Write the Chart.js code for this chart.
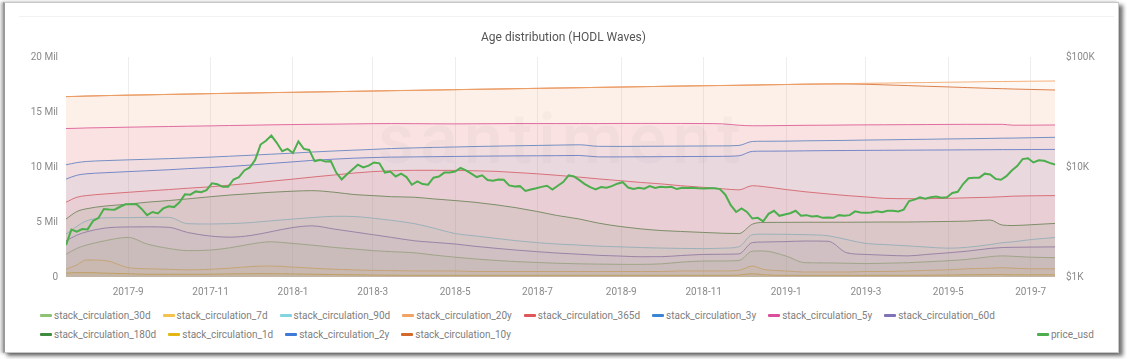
<!DOCTYPE html>
<html><head><meta charset="utf-8">
<script src="https://cdn.jsdelivr.net/npm/chart.js@4.4.1/dist/chart.umd.min.js"></script>
<style>
html,body{margin:0;padding:0;background:#fff;width:1127px;height:359px;overflow:hidden;font-family:Roboto,"Noto Sans",sans-serif;}
#frame{position:absolute;left:3px;top:2px;width:1113px;height:349px;border:1px solid #c8c8c8;border-left:2px solid #9a9a9a;box-shadow:4px 3px 4px rgba(0,0,0,0.55),-2px 0 3px rgba(0,0,0,0.3);background:#fff;}
#innerline{position:absolute;left:14px;top:13px;width:1095px;border-top:1px solid #f2f2f2;}
#wrap{position:absolute;left:0;top:0;width:1127px;height:300px;}
#wm{position:absolute;left:378px;top:98px;font-size:70px;font-weight:500;color:rgba(120,120,120,0.045);letter-spacing:6px;pointer-events:none;}
#legend{position:absolute;left:40px;top:306px;width:1000px;display:flex;flex-wrap:wrap;font-size:10px;color:#808080;line-height:19px;}
#legend2{position:absolute;left:1037px;top:325px;display:flex;font-size:10px;color:#808080;line-height:19px;}
.item{display:flex;align-items:center;margin-right:12px;white-space:nowrap;}
.mk{width:12px;height:3px;border-radius:1px;margin-right:2px;}
</style>
</head><body>
<div id="frame"><div id="innerline"></div></div>
<div id="wrap"><canvas id="c" width="1127" height="300"></canvas></div>
<div id="wm">santiment</div>
<div id="legend"></div>
<div id="legend2"></div>
<script>
const chartTitle = 'Age distribution (HODL Waves)';
const startDate = '2017-07-17';
const endDate = '2019-07-19';
const tickLabels = ['2017-9','2017-11','2018-1','2018-3','2018-5','2018-7','2018-9','2018-11','2019-1','2019-3','2019-5','2019-7'];
const leftTicks = [0,5,10,15,20];
const rightTicks = [1000,10000,100000];
const rightTickLabels = ['$1K','$10K','$100K'];

const layerDates = ['2017-07-17','2017-07-25','2017-08-01','2017-08-15','2017-09-01','2017-09-15','2017-10-01','2017-10-15','2017-11-01','2017-11-15',
 '2017-12-01','2017-12-15','2018-01-01','2018-01-15','2018-02-01','2018-02-15','2018-03-01','2018-03-15','2018-04-01','2018-04-15',
 '2018-05-01','2018-05-15','2018-06-01','2018-06-15','2018-07-01','2018-07-15','2018-08-01','2018-08-15','2018-09-01','2018-09-15',
 '2018-10-01','2018-10-15','2018-11-01','2018-11-15','2018-11-27','2018-12-07','2018-12-15','2019-01-01','2019-01-15','2019-02-01',
 '2019-02-15','2019-03-01','2019-03-15','2019-04-01','2019-04-15','2019-05-01','2019-05-15','2019-06-01','2019-06-10','2019-06-18',
 '2019-07-01','2019-07-19'];

const s20y = [16.40,16.42,16.45,16.49,16.53,16.56,16.60,16.63,16.67,16.70,16.73,16.76,16.79,16.82,16.85,16.88,16.91,16.94,16.97,17.00,17.03,17.06,17.09,17.12,17.15,17.18,17.21,17.24,17.27,17.30,17.33,17.36,17.39,17.41,17.43,17.45,17.47,17.50,17.53,17.56,17.58,17.61,17.63,17.66,17.68,17.71,17.73,17.76,17.77,17.78,17.80,17.82];
const s10y = [16.40,16.42,16.45,16.49,16.53,16.56,16.60,16.63,16.67,16.70,16.73,16.76,16.79,16.82,16.85,16.88,16.91,16.94,16.97,17.00,17.03,17.06,17.09,17.12,17.15,17.18,17.21,17.24,17.27,17.30,17.33,17.36,17.39,17.41,17.43,17.45,17.47,17.50,17.53,17.55,17.55,17.52,17.47,17.40,17.34,17.28,17.22,17.15,17.12,17.09,17.05,17.00];
const s5y = [13.50,13.52,13.55,13.58,13.62,13.65,13.68,13.71,13.74,13.77,13.80,13.83,13.86,13.88,13.90,13.92,13.94,13.95,13.94,13.93,13.92,13.93,13.94,13.95,13.95,13.95,13.95,13.95,13.96,13.96,13.96,13.96,13.95,13.92,13.80,13.75,13.75,13.77,13.79,13.80,13.82,13.83,13.84,13.85,13.86,13.87,13.88,13.88,13.88,13.80,13.80,13.82];
const s3y = [10.20,10.40,10.50,10.58,10.65,10.70,10.76,10.82,10.90,10.98,11.07,11.16,11.26,11.36,11.46,11.53,11.60,11.68,11.74,11.78,11.82,11.86,11.90,11.93,11.96,11.99,12.02,11.88,11.87,11.88,11.89,11.90,11.91,11.92,11.96,12.32,12.34,12.35,12.38,12.40,12.42,12.45,12.47,12.50,12.52,12.55,12.57,12.60,12.62,12.63,12.66,12.70];
const s2y = [8.90,9.25,9.38,9.48,9.58,9.66,9.75,9.85,9.95,10.05,10.18,10.32,10.47,10.60,10.72,10.80,10.86,10.90,10.92,10.94,10.96,10.98,11.00,11.01,11.02,11.03,11.05,10.92,10.92,10.93,10.94,10.95,10.96,10.97,11.02,11.42,11.44,11.45,11.47,11.49,11.50,11.51,11.52,11.53,11.54,11.55,11.56,11.57,11.58,11.58,11.59,11.60];
const s365d = [6.80,7.25,7.40,7.55,7.70,7.82,7.95,8.07,8.20,8.35,8.52,8.70,8.90,9.08,9.28,9.45,9.58,9.66,9.70,9.70,9.69,9.66,9.60,9.50,9.38,9.25,9.08,8.92,8.75,8.60,8.46,8.30,8.15,8.02,7.92,8.30,8.22,7.95,7.75,7.55,7.40,7.28,7.15,7.12,7.12,7.15,7.20,7.25,7.30,7.35,7.38,7.40];
const s180d = [5.27,5.95,6.20,6.45,6.62,6.80,6.95,7.10,7.30,7.45,7.58,7.70,7.80,7.85,7.70,7.50,7.40,7.30,7.25,7.10,6.95,6.80,6.55,6.30,5.95,5.60,5.27,4.90,4.58,4.38,4.22,4.14,4.05,3.98,3.95,4.80,4.96,4.97,4.98,4.98,4.98,4.99,5.00,5.00,5.02,5.05,5.08,5.18,4.72,4.68,4.75,4.87];
const s90d = [3.90,4.60,5.10,5.38,5.40,5.42,5.42,4.85,4.82,4.85,4.95,5.10,5.27,5.40,5.52,5.50,5.35,5.15,4.85,4.45,3.95,3.75,3.50,3.30,3.12,3.00,2.90,2.80,2.74,2.68,2.63,2.60,2.58,2.62,2.75,3.85,3.90,3.88,3.85,3.75,3.40,3.05,2.95,2.83,2.72,2.62,2.70,2.95,3.12,3.20,3.40,3.59];
const s60d = [3.30,3.80,4.10,4.45,4.55,4.56,4.52,4.05,3.72,3.62,3.78,4.10,4.50,4.65,4.35,4.10,3.85,3.60,3.29,3.15,3.00,2.80,2.60,2.45,2.30,2.18,2.07,1.97,1.90,1.84,1.85,1.95,2.05,2.07,2.10,3.13,3.18,3.22,3.27,3.25,2.20,2.05,1.98,1.92,2.05,2.20,2.35,2.60,2.68,2.70,2.72,2.74];
const s30d = [2.07,2.60,2.90,3.30,3.60,3.00,2.60,2.40,2.45,2.65,3.00,3.20,3.05,2.90,2.68,2.55,2.40,2.30,2.20,2.00,1.80,1.65,1.50,1.40,1.32,1.25,1.20,1.17,1.15,1.15,1.20,1.35,1.45,1.46,1.50,2.35,2.37,1.90,1.30,1.28,1.25,1.22,1.25,1.30,1.38,1.48,1.60,1.85,1.92,1.88,1.80,1.76];
const s7d = [0.70,1.10,1.55,1.50,0.85,0.75,0.70,0.65,0.70,0.80,0.95,1.00,0.90,0.80,0.70,0.65,0.60,0.58,0.55,0.55,0.55,0.50,0.50,0.50,0.50,0.50,0.50,0.50,0.50,0.50,0.50,0.55,0.55,0.55,0.60,1.00,0.70,0.55,0.45,0.45,0.45,0.50,0.50,0.55,0.60,0.65,0.75,0.80,0.85,0.80,0.75,0.75];
const s1d = [0.35,0.40,0.40,0.35,0.30,0.25,0.25,0.25,0.25,0.28,0.30,0.30,0.28,0.25,0.22,0.20,0.18,0.16,0.15,0.15,0.15,0.15,0.15,0.15,0.15,0.15,0.15,0.15,0.15,0.15,0.15,0.15,0.15,0.15,0.18,0.30,0.20,0.15,0.15,0.15,0.15,0.15,0.15,0.15,0.16,0.18,0.20,0.22,0.22,0.20,0.20,0.20];

// price_usd sampled every 4 days from startDate
const priceStepDays = 4;
const priceUsd = [1950,2700,2580,2730,2710,3230,3440,4150,4100,4090,
 4350,4580,4590,4600,4160,3650,3900,3780,4200,4400,
 4320,4780,5640,5600,6000,5900,6150,7100,6960,6600,
 6600,7700,8100,9300,9900,11600,16000,17300,19300,16600,
 13900,14600,13400,17100,14600,14300,11300,11600,11200,11300,
 8900,7700,8600,9500,10500,9900,10300,11000,10800,8900,
 9100,8200,8700,8100,6900,7400,7000,6900,8000,8200,
 8900,8900,9100,9800,9300,8700,8100,8400,7600,7500,
 7700,7650,6800,6650,6700,6050,6250,6400,6600,6750,
 6250,6750,7300,8400,8200,7600,7000,6550,6250,6580,
 6480,6700,7050,7280,6500,6300,6480,6350,6700,6450,
 6600,6550,6600,6300,6480,6450,6480,6400,6370,6420,
 6400,6300,5600,4500,3900,4200,3900,3400,3450,3200,
 3750,4000,3600,3700,3800,4000,3600,3650,3550,3580,
 3450,3480,3450,3650,3600,3650,3950,3850,3830,3850,
 3950,3880,4000,4000,3950,4100,4900,5050,5300,5150,
 5300,5400,5250,5300,5800,5950,7000,7900,8000,8000,
 8700,8550,7800,7650,8250,9300,10200,11800,12000,11000,
 11500,11400,10900,10500];

const legendOrder = ['stack_circulation_30d','stack_circulation_7d','stack_circulation_90d','stack_circulation_20y','stack_circulation_365d','stack_circulation_3y','stack_circulation_5y','stack_circulation_60d','stack_circulation_180d','stack_circulation_1d','stack_circulation_2y','stack_circulation_10y'];

// drawing stack: first entry is drawn last (on top)
const layers = [
 {name:'stack_circulation_20y', data:s20y, color:'#f2a366', fa:0.075},
 {name:'stack_circulation_10y', data:s10y, color:'#d5682b', fa:0.06},
 {name:'stack_circulation_5y', data:s5y, color:'#db4f9c', fa:0.09},
 {name:'stack_circulation_3y', data:s3y, color:'#3b86d4', fa:0.05},
 {name:'stack_circulation_2y', data:s2y, color:'#3f7ad8', fa:0.05},
 {name:'stack_circulation_365d', data:s365d, color:'#e0575b', fa:0.08},
 {name:'stack_circulation_180d', data:s180d, color:'#3f8c3f', fa:0.10},
 {name:'stack_circulation_90d', data:s90d, color:'#82d4e2', fa:0.09},
 {name:'stack_circulation_60d', data:s60d, color:'#7f72b8', fa:0.07},
 {name:'stack_circulation_30d', data:s30d, color:'#8ec275', fa:0.12},
 {name:'stack_circulation_7d', data:s7d, color:'#f4c24d', fa:0.12},
 {name:'stack_circulation_1d', data:s1d, color:'#e2b714', fa:0.12}
];
const priceColor = '#4cae4c';

const DAY = 86400000;
const t0 = Date.parse(startDate + 'T00:00:00Z');
function dayOf(s){ const p = s.split('-'); return (Date.UTC(+p[0], +p[1]-1, +(p[2]||1)) - t0) / DAY; }
const tickDays = tickLabels.map(l => dayOf(l + '-1'));
const layerX = layerDates.map(dayOf);

function rgba(hex, a){ const n = parseInt(hex.slice(1),16); return `rgba(${n>>16&255},${n>>8&255},${n&255},${a})`; }

const datasets = [];
datasets.push({
  label:'price_usd', yAxisID:'y2', order:0,
  data: priceUsd.map((v,i)=>({x:i*priceStepDays, y:v})),
  borderColor: priceColor, borderWidth:2, fill:false, tension:0, pointRadius:0
});
layers.forEach((l, i) => {
  datasets.push({
    label:l.name, yAxisID:'y', order:i+1,
    data: l.data.map((v,k)=>({x:layerX[k], y:v})),
    borderColor: rgba(l.color, 0.85), backgroundColor: rgba(l.color, l.fa),
    borderWidth:1, fill:'origin', cubicInterpolationMode:'monotone', pointRadius:0
  });
});

const axisFont = {family:'Roboto', size:10};
const axisColor = '#8a8a8a';

new Chart(document.getElementById('c'), {
  type:'line',
  data:{datasets},
  options:{
    responsive:false, animation:false, events:[],
    layout:{padding:{left:0,right:0,top:0,bottom:0}},
    plugins:{
      legend:{display:false}, tooltip:{enabled:false},
      title:{display:true, text:chartTitle, color:'#555', font:{family:'Roboto', size:12, weight:'normal'}, padding:{top:31,bottom:11.6}}
    },
    scales:{
      x:{type:'linear', min:0, max:dayOf(endDate),
        afterBuildTicks: s => { s.ticks = tickDays.map(v => ({value:v})); },
        ticks:{autoSkip:false, maxRotation:0, font:axisFont, color:axisColor, padding:9,
          callback: v => tickLabels[tickDays.indexOf(v)]},
        grid:{color:'rgba(0,0,0,0.07)', drawTicks:false}, border:{display:false},
        afterFit: s => { s.height = 23; }
      },
      y:{position:'left', min:0, max:20,
        afterBuildTicks: s => { s.ticks = leftTicks.map(v => ({value:v})); },
        ticks:{font:axisFont, color:axisColor, padding:8, callback: v => v === 0 ? '0' : v + ' Mil'},
        grid:{display:false, drawTicks:false}, border:{display:false},
        afterFit: s => { s.width = 66; }
      },
      y2:{type:'logarithmic', position:'right', min:1000, max:100000,
        afterBuildTicks: s => { s.ticks = rightTicks.map(v => ({value:v})); },
        ticks:{font:axisFont, color:axisColor, padding:11, callback: v => rightTickLabels[rightTicks.indexOf(v)]},
        grid:{display:false, drawTicks:false}, border:{display:false},
        afterFit: s => { s.width = 72; }
      }
    }
  }
});

// HTML legend
const colorOf = Object.fromEntries(layers.map(l => [l.name, l.color]));
const lg = document.getElementById('legend');
legendOrder.forEach(n => {
  const it = document.createElement('div'); it.className = 'item';
  it.innerHTML = `<span class="mk" style="background:${colorOf[n]}"></span><span>${n}</span>`;
  lg.appendChild(it);
});
const lg2 = document.getElementById('legend2');
lg2.innerHTML = `<div class="item" style="margin-right:0"><span class="mk" style="background:${priceColor}"></span><span>price_usd</span></div>`;
</script>
</body></html>
